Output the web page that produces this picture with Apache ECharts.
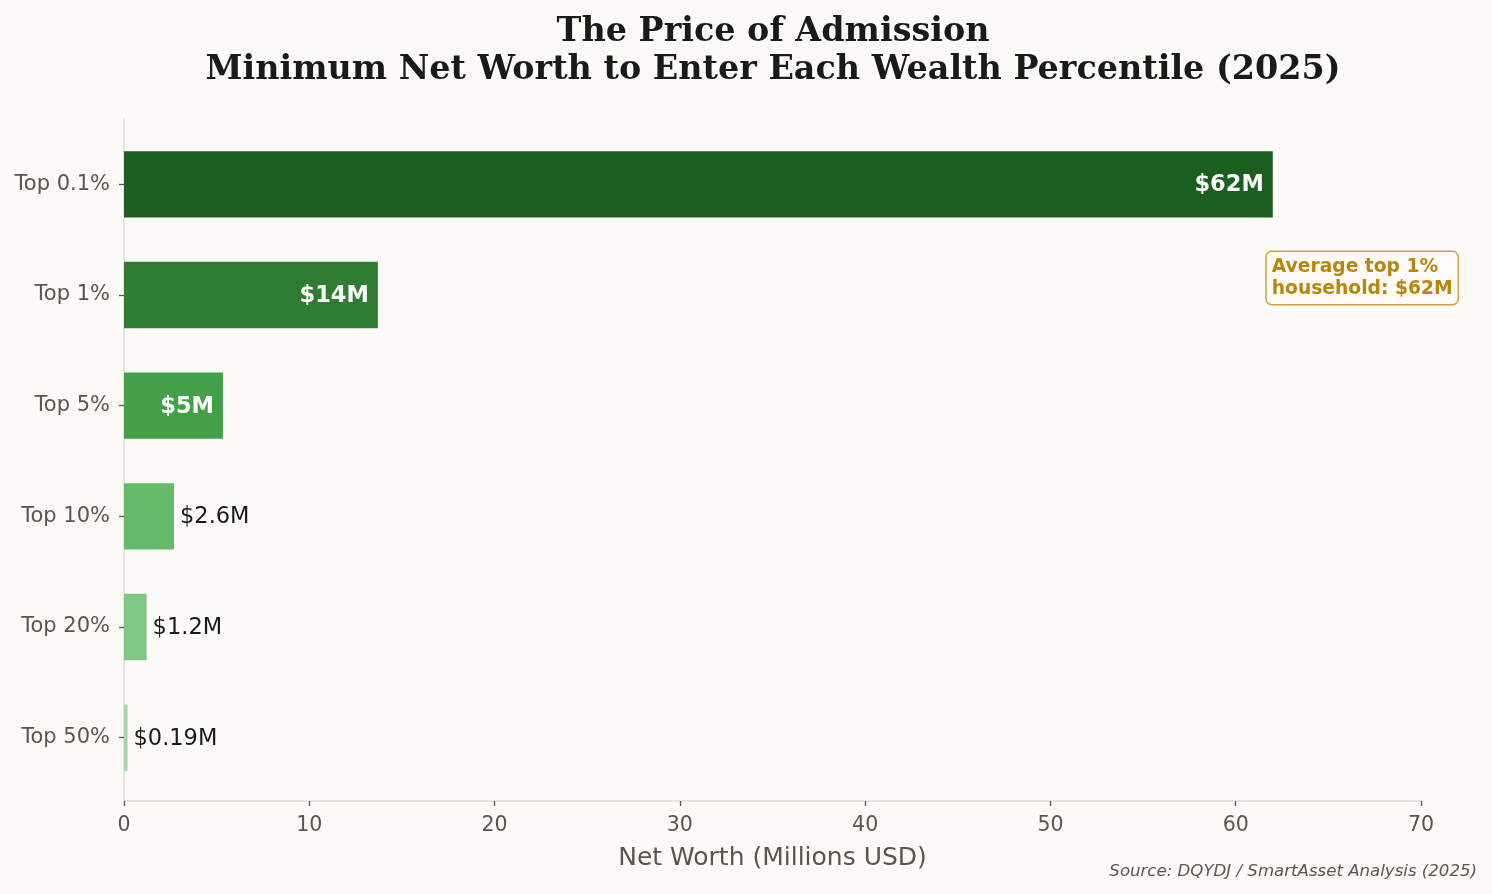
<!DOCTYPE html>
<html>
<head>
<meta charset="utf-8">
<script src="https://cdn.jsdelivr.net/npm/echarts@6/dist/echarts.min.js"></script>
<style>
html,body{margin:0;padding:0;background:#fcfbf8;}
#c{width:1492px;height:894px;}
</style>
</head>
<body>
<div id="c"></div>
<script>
const categories = ['Top 0.1%', 'Top 1%', 'Top 5%', 'Top 10%', 'Top 20%', 'Top 50%'];
const values = [62, 13.7, 5.34, 2.7, 1.22, 0.19];
const valueLabels = ['$62M', '$14M', '$5M', '$2.6M', '$1.2M', '$0.19M'];
const barColors = ['#1b5e20', '#2e7d32', '#43a047', '#66bb6a', '#81c784', '#a5d6a7'];
const xTicks = [0, 10, 20, 30, 40, 50, 60, 70];
const annotationText = 'Average top 1%\nhousehold: $62M';
const annotationPoint = [62, 'Top 1%'];

const SANS = 'DejaVu Sans';
const TXT = '#5a5550';

const barData = values.map((v, i) => {
  const inside = v >= 5;
  return {
    value: v,
    itemStyle: { color: barColors[i] },
    label: inside ? {
      show: true, position: 'insideRight', distance: 9, offset: [0, 1],
      color: '#ffffff', fontWeight: 'bold', fontSize: 22.5, fontFamily: SANS,
      formatter: valueLabels[i]
    } : {
      show: true, position: 'right', distance: 6, offset: [0, 1],
      color: '#1a1a1a', fontWeight: 'normal', fontSize: 22.5, fontFamily: SANS,
      formatter: valueLabels[i]
    }
  };
});

const chart = echarts.init(document.getElementById('c'));
chart.setOption({
  animation: false,
  backgroundColor: '#fcfbf8',
  title: [
    {
      text: 'The Price of Admission\nMinimum Net Worth to Enter Each Wealth Percentile (2025)',
      left: 773, top: 13, padding: 0, textAlign: 'center',
      textStyle: { fontFamily: 'DejaVu Serif', fontWeight: 'bold', fontSize: 33.4, lineHeight: 38, color: '#1a1a1a' }
    },
    {
      text: 'Source: DQYDJ / SmartAsset Analysis (2025)',
      right: 15, bottom: 14, padding: 0,
      textStyle: { fontFamily: SANS, fontStyle: 'italic', fontWeight: 'normal', fontSize: 16.6, color: TXT }
    }
  ],
  grid: [
    { left: 124, right: 71, top: 129, bottom: 101, containLabel: false },
    { left: 124, right: 71, top: 119, bottom: 93, containLabel: false }
  ],
  xAxis: [
    {
      gridIndex: 0, type: 'value', min: 0, max: 70, interval: 10,
      show: false
    },
    {
      gridIndex: 1, type: 'value', min: 0, max: 70, interval: 10,
      name: 'Net Worth (Millions USD)', nameLocation: 'middle', nameGap: 45,
      nameTextStyle: { fontFamily: SANS, fontSize: 25, color: TXT },
      axisLine: { show: true, onZero: false, lineStyle: { color: '#e2ddd8', width: 1.5 } },
      axisTick: { show: true, length: 5, lineStyle: { color: TXT, width: 1.3 } },
      axisLabel: { fontFamily: SANS, fontSize: 20.5, color: TXT, margin: 14,
        formatter: v => xTicks.includes(v) ? String(v) : '' },
      splitLine: { show: false }
    }
  ],
  yAxis: [
    {
      gridIndex: 0, type: 'category', data: categories, inverse: true,
      axisLine: { show: false },
      axisTick: { show: true, alignWithLabel: true, length: 5, lineStyle: { color: TXT, width: 1.3 } },
      axisLabel: { fontFamily: SANS, fontSize: 21, color: TXT, margin: 14 },
      splitLine: { show: false }
    },
    {
      gridIndex: 1, type: 'value', min: 0, max: 1,
      axisLine: { show: true, onZero: false, lineStyle: { color: '#e2ddd8', width: 1.5 } },
      axisTick: { show: false }, axisLabel: { show: false }, splitLine: { show: false }
    }
  ],
  series: [
    {
      type: 'bar', xAxisIndex: 0, yAxisIndex: 0,
      barWidth: '60%',
      data: barData,
      markPoint: {
        symbol: 'rect', symbolSize: 0,
        data: [{ coord: annotationPoint, value: 0 }],
        label: {
          show: true, position: 'inside', align: 'left', verticalAlign: 'middle',
          offset: [-6, -17],
          formatter: annotationText,
          fontFamily: SANS, fontWeight: 'bold', fontSize: 18.7, lineHeight: 22,
          color: '#b8860b',
          backgroundColor: '#fdfcf9', borderColor: '#cfa240', borderWidth: 1.5, borderRadius: 5,
          padding: [4, 5, 4, 5]
        }
      }
    }
  ]
});
</script>
</body>
</html>
